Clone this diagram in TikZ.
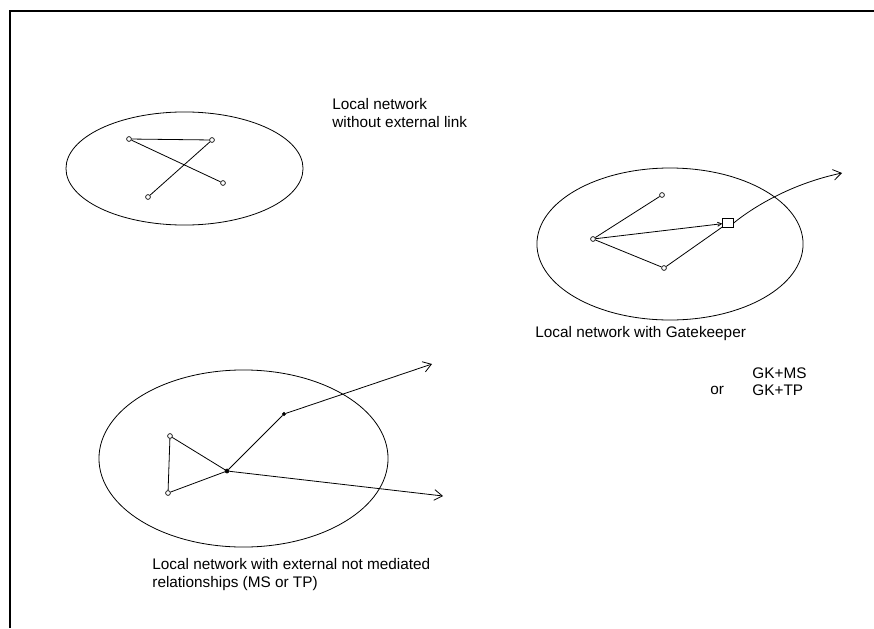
\documentclass[tikz,border=0pt]{standalone}
\usepackage{fontspec}
\setmainfont{Liberation Sans}
\usetikzlibrary{arrows.meta}
\tikzset{
  host/.style={circle,draw,inner sep=0pt,minimum size=3.6pt,line width=0.5pt},
  hostfill/.style={host,fill=black},
  gate/.style={rectangle,draw,inner sep=0pt,minimum width=8pt,minimum height=6.5pt,line width=0.5pt},
  lbl/.style={font=\fontsize{11.5}{13.5}\selectfont,align=left,inner sep=0pt,anchor=west},
  arr/.style={-{Straight Barb[length=6pt,width=8pt]}}
}
\begin{document}
\begin{tikzpicture}[x=0.75pt,y=-0.75pt,line width=0.6pt]
\useasboundingbox (0,0) rectangle (874,628);
\draw[line width=1.6pt] (10,628) -- (10,11) -- (874,11);
% local network without external link
\draw (184.5,168.5) ellipse [x radius=88.9pt,y radius=42.4pt];
\node[host] (a1) at (129,139) {};
\node[host] (a2) at (212,140) {};
\node[host] (a3) at (223,183) {};
\node[host] (a4) at (148,197) {};
\draw (a1) -- (a2);
\draw (a1) -- (a3);
\draw (a2) -- (a4);
\node[lbl] (t1) at (332,113.5) {Local network\\without external link};
% local network with gatekeeper
\draw (670,244) ellipse [x radius=99.8pt,y radius=57pt];
\node[host] (b1) at (662,195) {};
\node[host] (b2) at (593,239) {};
\node[host] (b3) at (664,268) {};
\node[gate] (gk) at (728,223) {};
\coordinate (gkout) at (842,173);
\draw (b2) -- (b1);
\draw (b2) -- (b3);
\draw[-{Straight Barb[length=3pt,width=3pt]}] (b2) -- (gk);
\draw (b3) -- (gk);
\draw[arr] (gk.east) .. controls (752,208) and (790,184) .. (gkout);
\node[lbl] (t2) at (535,334) {Local network with Gatekeeper};
\node[lbl] (t3) at (752,373) {GK+MS};
\node[lbl] (t4) at (752,390) {GK+TP};
\node[lbl] (t5) at (710,390) {or};
% local network with external relationships
\draw (243.5,458.5) ellipse [x radius=108.4pt,y radius=66.4pt];
\node[host] (c1) at (170,436) {};
\node[host] (c2) at (168,493) {};
\node[hostfill,minimum size=3pt] (c3) at (227,471) {};
\node[hostfill,minimum size=2.5pt] (c4) at (284,414) {};
\coordinate (ext1) at (432,364);
\coordinate (ext2) at (443,496);
\draw (c1) -- (c2);
\draw (c1) -- (c3);
\draw (c2) -- (c3);
\draw (c3) -- (c4);
\draw[arr] (c4) -- (ext1);
\draw[arr] (c3) -- (ext2);
\node[lbl] (t6) at (152,575) {Local network with external not mediated\\relationships (MS or TP)};
\end{tikzpicture}
\end{document}
